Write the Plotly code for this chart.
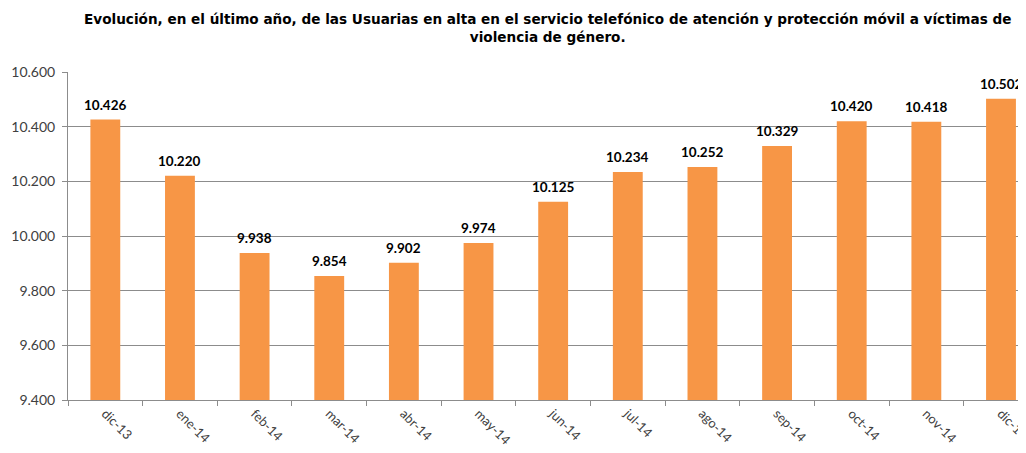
import plotly.graph_objects as go

# Usuarias en alta, diciembre 2013 - diciembre 2014
months = ["dic-13", "ene-14", "feb-14", "mar-14", "abr-14", "may-14", "jun-14",
          "jul-14", "ago-14", "sep-14", "oct-14", "nov-14", "dic-14"]
users = [10426, 10220, 9938, 9854, 9902, 9974, 10125,
         10234, 10252, 10329, 10420, 10418, 10502]

y_ticks = [9400, 9600, 9800, 10000, 10200, 10400, 10600]

title_text = ("<b>Evolución, en el último año, de las Usuarias en alta en el servicio "
              "telefónico de atención y protección móvil a víctimas de<br>"
              "violencia de género.</b>")

font_family = "Lato, 'DejaVu Sans', sans-serif"
title_family = "'DejaVu Sans', sans-serif"
grid_grey = "#8c8c8c"

fig = go.Figure()
fig.add_trace(
    go.Bar(
        x=months,
        y=users,
        marker=dict(color="#F79646", line=dict(width=0)),
        width=0.4,
        hoverinfo="x+y",
    )
)

# value labels a bit higher above the bars than plotly's own outside text
for m, v in zip(months, users):
    fig.add_annotation(
        x=m,
        y=v,
        text="<b>{:,}</b>".format(v).replace(",", "."),
        xref="x",
        yref="y",
        yanchor="bottom",
        yshift=5,
        showarrow=False,
        font=dict(size=13.5, color="#000000", family=font_family),
    )

# title as an annotation so both lines sit where the original has them
fig.add_annotation(
    text=title_text,
    xref="paper",
    yref="paper",
    x=0.5,
    y=1.135,
    xanchor="center",
    yanchor="middle",
    showarrow=False,
    align="center",
    font=dict(size=13.6, color="#000000", family=title_family),
)

# page body adds an 8px margin, so the figure is 8px smaller than the window
fig.update_layout(
    separators=",.",
    width=1018,
    height=445,
    margin=dict(l=60, r=0, t=64, b=53),
    plot_bgcolor="white",
    paper_bgcolor="white",
    showlegend=False,
    font=dict(family=font_family, color="#404040"),
    xaxis=dict(
        type="category",
        range=[-0.5, 12.335],
        automargin=False,
        tickangle=45,
        tickfont=dict(size=13, color="#404040"),
        showline=True,
        linecolor=grid_grey,
        linewidth=1,
        ticks="outside",
        tickson="boundaries",
        ticklen=5,
        tickcolor=grid_grey,
        showgrid=False,
    ),
    yaxis=dict(
        range=[9400, 10600],
        automargin=False,
        tickvals=y_ticks,
        tickformat=",d",
        tickfont=dict(size=14, color="#404040"),
        ticklabelstandoff=4,
        showline=True,
        linecolor=grid_grey,
        linewidth=1,
        ticks="outside",
        ticklen=5,
        tickcolor=grid_grey,
        showgrid=True,
        gridcolor=grid_grey,
        gridwidth=1,
        zeroline=False,
    ),
)

fig.write_html("out.html")
